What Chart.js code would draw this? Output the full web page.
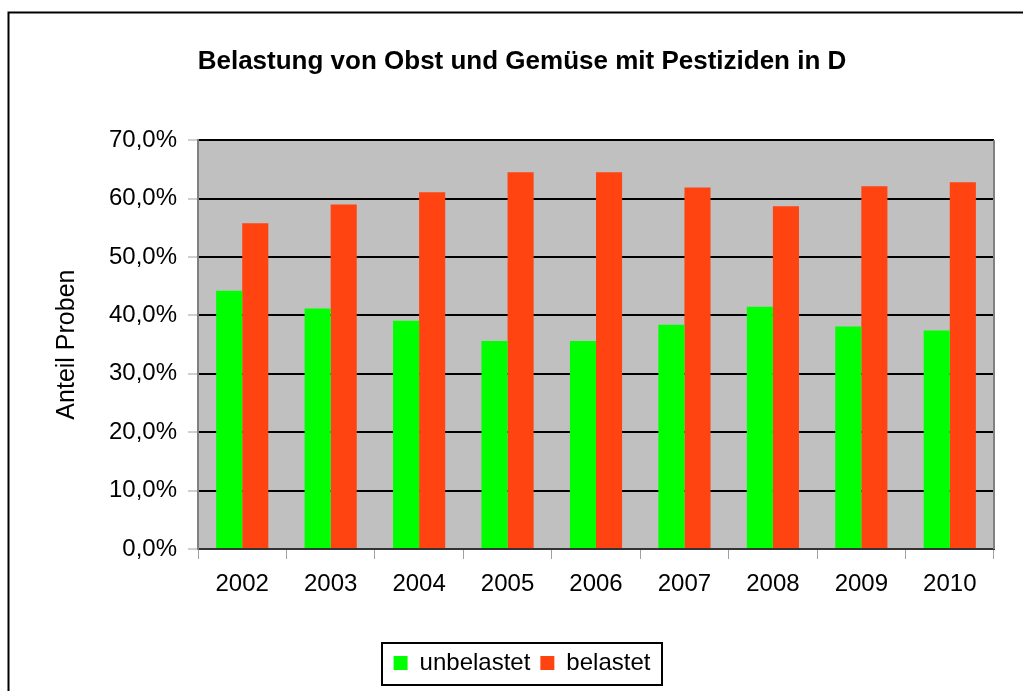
<!DOCTYPE html>
<html>
<head>
<meta charset="utf-8">
<script src="https://cdn.jsdelivr.net/npm/chart.js@4/dist/chart.umd.min.js"></script>
<style>
html,body{margin:0;padding:0;background:#fff;}
#wrap{width:1023px;height:691px;position:relative;}
</style>
</head>
<body>
<div id="wrap"><canvas id="c" width="1023" height="691"></canvas></div>
<script>
const years = ['2002','2003','2004','2005','2006','2007','2008','2009','2010'];
const unbelastet = [44.2, 41.2, 39.1, 35.6, 35.6, 38.4, 41.5, 38.1, 37.4];
const belastet = [55.8, 59.0, 61.1, 64.5, 64.5, 61.9, 58.7, 62.1, 62.8];
const seriesNames = ['unbelastet', 'belastet'];
const titleText = 'Belastung von Obst und Gemüse mit Pestiziden in D';
const yAxisTitle = 'Anteil Proben';

const FONT = '"Liberation Sans", Arial, sans-serif';

const bgPlugin = {
  id: 'bgPlugin',
  beforeDraw(chart) {
    const ctx = chart.ctx;
    const a = chart.chartArea;
    ctx.save();
    ctx.fillStyle = '#ffffff';
    ctx.fillRect(0, 0, chart.width, chart.height);
    ctx.fillStyle = '#c0c0c0';
    ctx.fillRect(a.left, a.top, a.right - a.left, a.bottom - a.top);
    ctx.strokeStyle = '#000';
    ctx.lineWidth = 2;
    ctx.strokeRect(8.5, 12.5, 1200, 1000);
    ctx.restore();
  },
  afterDatasetsDraw(chart) {
    const ctx = chart.ctx;
    const a = chart.chartArea;
    ctx.save();
    ctx.strokeStyle = '#808080';
    ctx.lineWidth = 2;
    ctx.beginPath();
    ctx.moveTo(a.right, a.top);
    ctx.lineTo(a.right, a.bottom);
    ctx.stroke();
    ctx.restore();
  },
  afterDraw(chart) {
    const ctx = chart.ctx;
    ctx.save();
    ctx.strokeStyle = '#000';
    ctx.lineWidth = 2;
    ctx.strokeRect(382, 643, 280, 42);
    ctx.restore();
  }
};

new Chart(document.getElementById('c'), {
  type: 'bar',
  data: {
    labels: years,
    datasets: [
      { label: seriesNames[0], data: unbelastet, backgroundColor: '#00ff00', borderWidth: 0 },
      { label: seriesNames[1], data: belastet, backgroundColor: '#ff4411', borderWidth: 0 }
    ]
  },
  options: {
    responsive: false,
    animation: false,
    devicePixelRatio: 1,
    layout: { padding: { left: 50, right: 29, top: 0, bottom: 6 } },
    datasets: { bar: { categoryPercentage: 0.59, barPercentage: 1.0 } },
    plugins: {
      title: {
        display: true,
        text: titleText,
        color: '#000',
        font: { family: FONT, size: 26, weight: 'bold', lineHeight: 1.2 },
        padding: { top: 46, bottom: 63 }
      },
      legend: {
        display: true,
        position: 'bottom',
        labels: {
          color: '#000',
          font: { family: FONT, size: 24 },
          boxWidth: 14,
          boxHeight: 14,
          padding: 10
        }
      },
      tooltip: { enabled: false }
    },
    scales: {
      x: {
        afterFit(s) { s.height = 92; },
        grid: {
          offset: true,
          drawOnChartArea: false,
          drawTicks: true,
          tickLength: 10,
          tickColor: '#a0a0a0',
          tickWidth: 1
        },
        border: { display: true, color: '#333333', width: 2 },
        ticks: { color: '#000', font: { family: FONT, size: 24 }, padding: 11 }
      },
      y: {
        min: 0,
        max: 70,
        afterFit(s) { s.width = 148; },
        ticks: {
          stepSize: 10,
          color: '#000',
          font: { family: FONT, size: 24 },
          padding: 11,
          callback: v => v.toFixed(1).replace('.', ',') + '%'
        },
        grid: {
          color: '#000',
          lineWidth: 2,
          drawTicks: true,
          tickLength: 10,
          tickColor: '#a0a0a0',
          tickWidth: 1
        },
        border: { display: true, color: '#808080', width: 2 },
        title: {
          display: true,
          text: yAxisTitle,
          color: '#000',
          font: { family: FONT, size: 25 },
          padding: { top: 2, bottom: 0 }
        }
      }
    }
  },
  plugins: [bgPlugin]
});
</script>
</body>
</html>
